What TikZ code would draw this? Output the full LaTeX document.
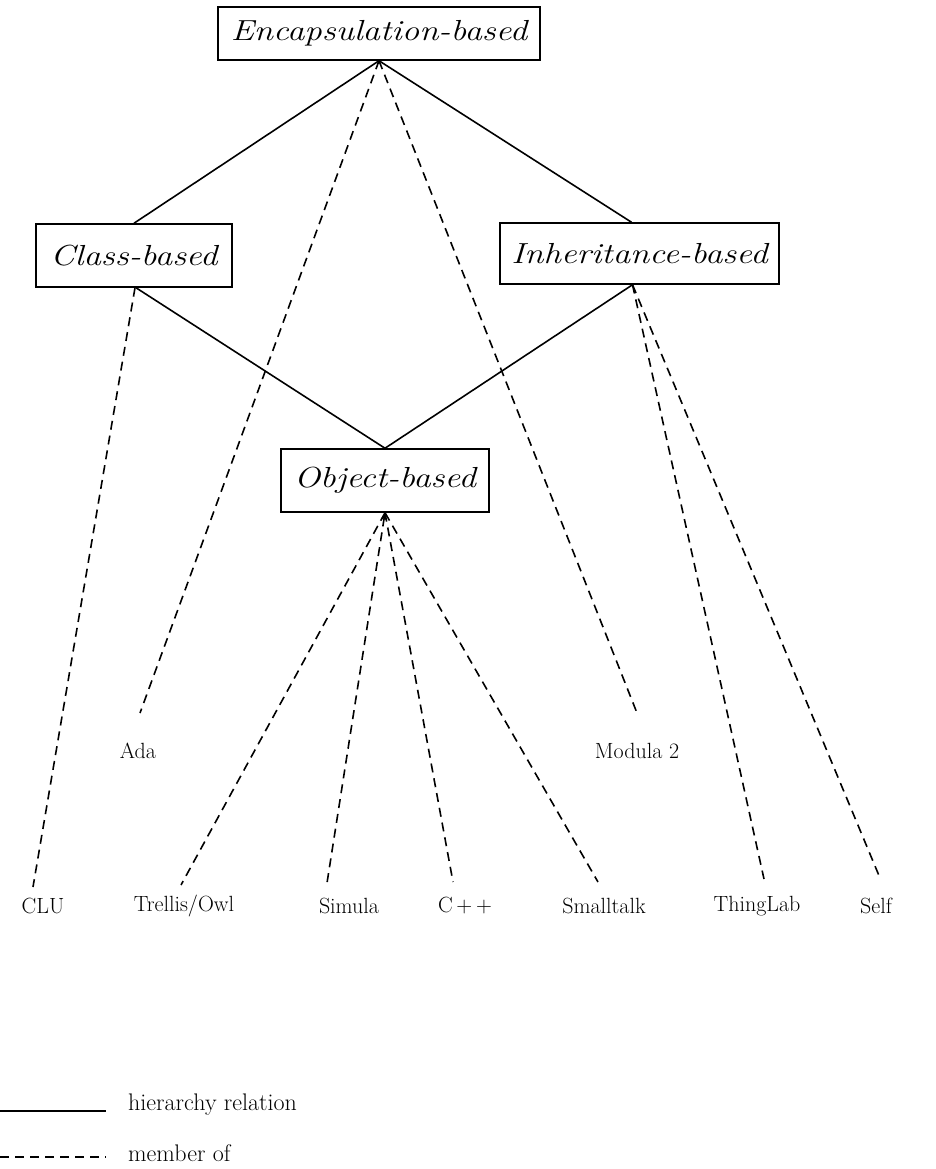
\documentclass[tikz,border=0pt]{standalone}
\usepackage{fontspec}
\usepackage{graphicx}
\usetikzlibrary{arrows.meta}
\newcommand\catfont{\fontsize{29}{32}\selectfont\itshape}
\newcommand\cattext[1]{\scalebox{1.2}[1]{#1}}
\newcommand\langfont{\fontsize{22}{26}\selectfont}
\newcommand\legfont{\fontsize{24}{28}\selectfont}
\begin{document}
\begin{tikzpicture}[x=1pt,y=-1pt,
  catbox/.style={draw, line width=1.5pt, inner sep=0pt, font=\catfont},
  lang/.style={inner sep=0pt, font=\langfont},
  legend/.style={inner sep=0pt, font=\legfont, anchor=west},
  hier/.style={line width=1.6pt},
  member/.style={line width=1.6pt, dash pattern=on 9pt off 6pt}]
\useasboundingbox (0,0) rectangle (935,1169);

% category boxes
\node[catbox, minimum width=322pt, minimum height=53pt] (enc) at (379,33.5) {\cattext{Encapsulation-based}};
\node[catbox, minimum width=196pt, minimum height=63pt] (cls) at (134,255.5) {\cattext{Class-based}};
\node[catbox, minimum width=279pt, minimum height=61pt] (inh) at (639.5,253.5) {\cattext{Inheritance-based}};
\node[catbox, minimum width=208pt, minimum height=63pt] (obj) at (385,480.5) {\cattext{Object-based}};

% hierarchy relations
\draw[hier] (enc.south) -- (cls.north);
\draw[hier] (enc.south) -- ([xshift=-8pt]inh.north);
\draw[hier] ([xshift=2pt]cls.south) -- (obj.north);
\draw[hier] ([xshift=-7pt]inh.south) -- (obj.north);

% languages
\node[lang] (ada) at (138,751) {Ada};
\node[lang] (mod) at (637,751) {Modula 2};
\node[lang] (clu) at (43,906) {CLU};
\node[lang] (tre) at (184,906) {Trellis/Owl};
\node[lang] (sim) at (349,906) {Simula};
\node[lang] (cpp) at (465,906) {C\,+\,+};
\node[lang] (sma) at (604,906) {Smalltalk};
\node[lang] (thi) at (757,906) {ThingLab};
\node[lang] (slf) at (876,906) {Self};

% free ends of the membership lines
\coordinate (adaE) at (140,713);
\coordinate (modE) at (637,713);
\coordinate (cluE) at (33,887);
\coordinate (treE) at (181,885);
\coordinate (simE) at (327,883);
\coordinate (cppE) at (453,882);
\coordinate (smaE) at (598,882);
\coordinate (thiE) at (764,879);
\coordinate (slfE) at (880,878);

% membership relations
\draw[member] (enc.south) -- (adaE);
\draw[member] (enc.south) -- (modE);
\draw[member] ([xshift=1pt]cls.south) -- (cluE);
\draw[member] ([xshift=-7pt]inh.south) -- (thiE);
\draw[member] ([xshift=-7pt]inh.south) -- (slfE);
\draw[member] (obj.south) -- (treE);
\draw[member, {Stealth[length=8pt,width=6pt]}-] (obj.south) -- (simE);
\draw[member] (obj.south) -- (cppE);
\draw[member] (obj.south) -- (smaE);

% legend
\coordinate (hA) at (0,1111);
\coordinate (hB) at (106,1111);
\coordinate (mA) at (0,1157);
\coordinate (mB) at (106,1157);
\draw[hier] (hA) -- (hB);
\draw[member] (mA) -- (mB);
\node[legend] (hlab) at (128,1105) {hierarchy relation};
\node[legend] (mlab) at (128,1153) {member of};
\end{tikzpicture}
\end{document}
